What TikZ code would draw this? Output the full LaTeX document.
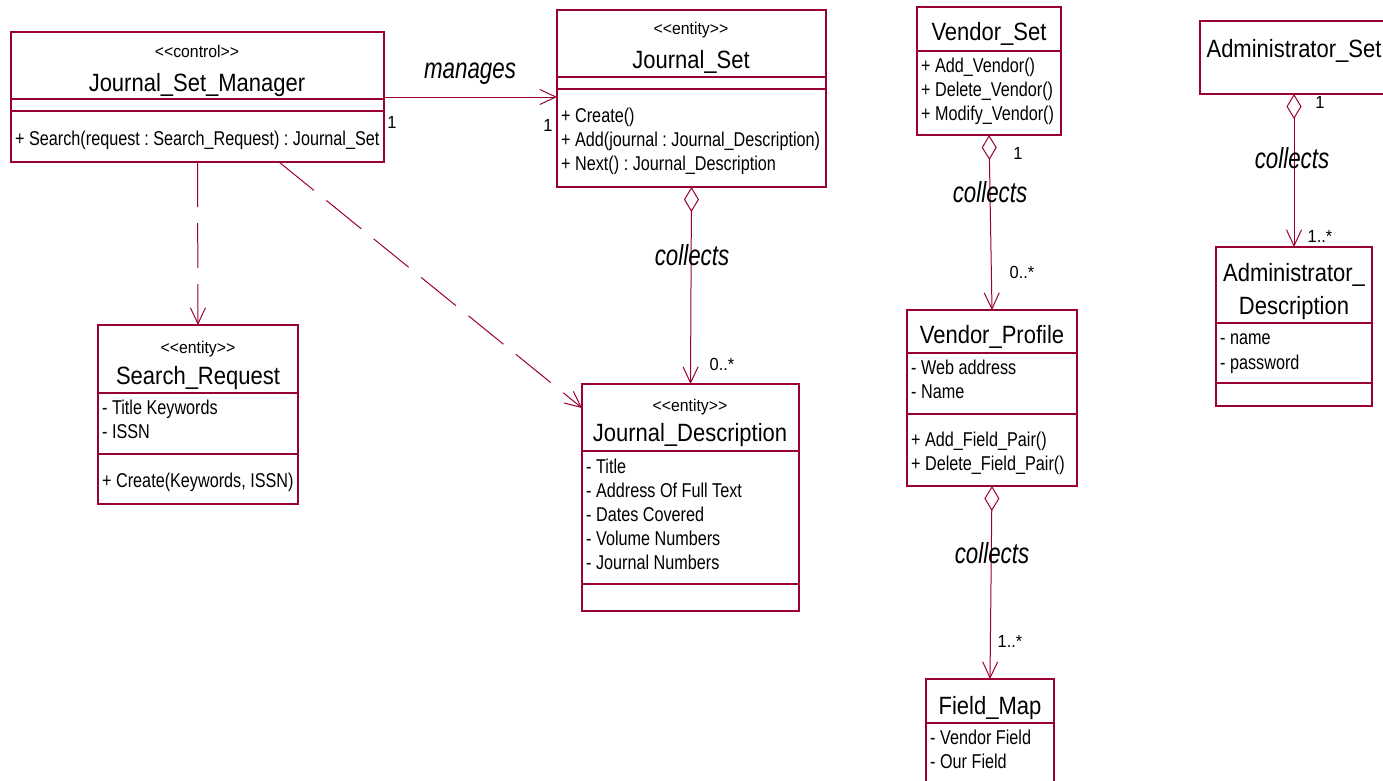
\documentclass[tikz,border=0pt]{standalone}
\usepackage{fontspec}
\setmainfont{Liberation Sans}
% narrow, tall faces for the class boxes and labels
\newfontfamily\namefont{Liberation Sans}[FakeStretch=0.88]
\newfontfamily\memberfont{Liberation Sans}[FakeStretch=0.81]
\newfontfamily\stereofont{Liberation Sans}[FakeStretch=0.93]
\newfontfamily\rolefont{Liberation Sans}[FakeStretch=0.77]
\newfontfamily\multfont{Liberation Sans}[FakeStretch=0.94]
\usetikzlibrary{arrows.meta,calc}
\definecolor{rose}{RGB}{153,0,51}
\frenchspacing
% stereotype brackets without the guillemet ligature
\newcommand{\stl}{<\kern0pt<}
\newcommand{\str}{>\kern0pt>}

\tikzset{
  box/.style={draw=rose, line width=1.3pt, rectangle, anchor=north west, inner sep=0pt, outer sep=0pt},
  sep/.style={draw=rose, line width=1.1pt},
  stereo/.style={font=\stereofont\fontsize{17}{20}\selectfont, inner sep=0pt, anchor=base, yshift=-6.5pt},
  cname/.style={font=\namefont\fontsize{25}{29}\selectfont, inner sep=0pt, anchor=base, yshift=-9pt},
  member/.style={font=\memberfont\fontsize{20}{23}\selectfont, inner sep=0pt, anchor=base west, yshift=-7pt},
  role/.style={font=\rolefont\itshape\fontsize{29}{33}\selectfont, inner sep=0pt, anchor=base, yshift=-8.5pt},
  mult/.style={font=\multfont\fontsize{17.5}{20}\selectfont, inner sep=0pt, anchor=base, yshift=-6.2pt},
  link/.style={draw=rose, line width=1pt},
  dep/.style={link, dash pattern=on 45pt off 16pt, -{Straight Barb[length=16pt,width=15pt]}},
  nav/.style={link, -{Straight Barb[length=16pt,width=15pt]}},
  agg/.style={link, {Diamond[open,length=25pt,width=15pt]}-{Straight Barb[length=16pt,width=15pt]}},
}

\begin{document}
\begin{tikzpicture}[x=1pt,y=-1pt]
\useasboundingbox (0,0) rectangle (1383,780);
\clip (0,0) rectangle (1383,780);
\fill[white] (0,0) rectangle (1383,780);

% ---- Journal_Set_Manager
\node[box, minimum width=373pt, minimum height=130pt] (jsm) at (11,32) {};
\draw[sep] (11,99) -- (384,99);
\draw[sep] (11,111) -- (384,111);
\node[stereo] (jsmst) at (197,51) {\stl control\str};
\node[cname] (jsmnm) at (197,82) {Journal\_Set\_Manager};
\node[member] (jsmo1) at (15,138) {+ Search(request : Search\_Request) : Journal\_Set};

% ---- Journal_Set
\node[box, minimum width=269pt, minimum height=177pt] (js) at (557,10) {};
\draw[sep] (557,77) -- (826,77);
\draw[sep] (557,89) -- (826,89);
\node[stereo] (jsst) at (691,28) {\stl entity\str};
\node[cname] (jsnm) at (691,59) {Journal\_Set};
\node[member] (jso1) at (561,115) {+ Create()};
\node[member] (jso2) at (561,139) {+ Add(journal : Journal\_Description)};
\node[member] (jso3) at (561,163) {+ Next() : Journal\_Description};

% ---- Search_Request
\node[box, minimum width=200pt, minimum height=179pt] (sr) at (98,325) {};
\draw[sep] (98,393) -- (298,393);
\draw[sep] (98,454) -- (298,454);
\node[stereo] (srst) at (198,347) {\stl entity\str};
\node[cname] (srnm) at (198,375) {Search\_Request};
\node[member] (sra1) at (102,407) {- Title Keywords};
\node[member] (sra2) at (102,431) {- ISSN};
\node[member] (sro1) at (102,480) {+ Create(Keywords, ISSN)};

% ---- Journal_Description
\node[box, minimum width=217pt, minimum height=227pt] (jd) at (582,384) {};
\draw[sep] (582,451) -- (799,451);
\draw[sep] (582,584) -- (799,584);
\node[stereo] (jdst) at (690,405) {\stl entity\str};
\node[cname] (jdnm) at (690,432) {Journal\_Description};
\node[member] (jda1) at (586,466) {- Title};
\node[member] (jda2) at (586,490) {- Address Of Full Text};
\node[member] (jda3) at (586,514) {- Dates Covered};
\node[member] (jda4) at (586,538) {- Volume Numbers};
\node[member] (jda5) at (586,562) {- Journal Numbers};

% ---- Vendor_Set
\node[box, minimum width=144pt, minimum height=128pt] (vs) at (917,7) {};
\draw[sep] (917,51) -- (1061,51);
\node[cname] (vsnm) at (989,31) {Vendor\_Set};
\node[member] (vso1) at (921,65) {+ Add\_Vendor()};
\node[member] (vso2) at (921,89) {+ Delete\_Vendor()};
\node[member] (vso3) at (921,113) {+ Modify\_Vendor()};

% ---- Vendor_Profile
\node[box, minimum width=170pt, minimum height=176pt] (vp) at (907,310) {};
\draw[sep] (907,353) -- (1077,353);
\draw[sep] (907,414) -- (1077,414);
\node[cname] (vpnm) at (992,334) {Vendor\_Profile};
\node[member] (vpa1) at (911,367) {- Web address};
\node[member] (vpa2) at (911,391) {- Name};
\node[member] (vpo1) at (911,439) {+ Add\_Field\_Pair()};
\node[member] (vpo2) at (911,463) {+ Delete\_Field\_Pair()};

% ---- Field_Map
\node[box, minimum width=128pt, minimum height=130pt] (fm) at (926,679) {};
\draw[sep] (926,723) -- (1054,723);
\node[cname] (fmnm) at (990,705) {Field\_Map};
\node[member] (fma1) at (930,737) {- Vendor Field};
\node[member] (fma2) at (930,761) {- Our Field};

% ---- Administrator_Set
\node[box, minimum width=188pt, minimum height=73pt] (as) at (1200,21) {};
\node[cname] (asnm) at (1294,48) {Administrator\_Set};

% ---- Administrator_Description
\node[box, minimum width=156pt, minimum height=159pt] (ad) at (1216,247) {};
\draw[sep] (1216,323) -- (1372,323);
\draw[sep] (1216,383) -- (1372,383);
\node[cname] (adnm1) at (1294,272) {Administrator\_};
\node[cname] (adnm2) at (1294,305) {Description};
\node[member] (ada1) at (1220,337) {- name};
\node[member] (ada2) at (1220,362) {- password};

% ---- connectors
\draw[nav] (jsm.east) -- (jsm.east -| js.west);
\node[role] (lman) at (470,70) {manages};
\node[mult] (m1) at (392,122) {1};
\node[mult] (m2) at (548,125) {1};

\draw[dep] (jsm.south) -- (sr.north);
\coordinate (d0) at ($(jsm.south)+(81.5,0)$);
\coordinate (d1) at ($(jd.north west)+(0,24)$);
\draw[dep] (d0) -- (d1);

\draw[agg] (js.south) -- (jd.north);
\node[role] (lc1) at (692,257) {collects};
\node[mult] (m3) at (722,364) {0..*};

\draw[agg] (vs.south) -- (vp.north);
\node[mult] (m4) at (1018,153) {1};
\node[role] (lc2) at (990,194) {collects};
\node[mult] (m5) at (1022,272) {0..*};

\draw[agg] (vp.south) -- (fm.north);
\node[role] (lc3) at (992,555) {collects};
\node[mult] (m6) at (1010,641) {1..*};

\draw[agg] (as.south) -- (ad.north);
\node[mult] (m7) at (1320,102) {1};
\node[role] (lc4) at (1292,160) {collects};
\node[mult] (m8) at (1320,236) {1..*};
\end{tikzpicture}
\end{document}
